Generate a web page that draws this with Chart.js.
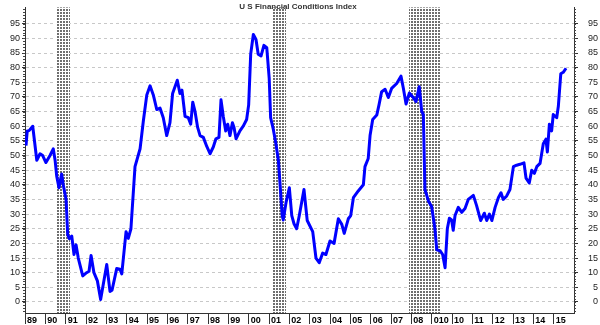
<!DOCTYPE html>
<html>
<head>
<meta charset="utf-8">
<title>US Financial Conditions Index</title>
<script src="https://cdn.jsdelivr.net/npm/chart.js@4.4.0/dist/chart.umd.min.js"></script>
<style>
  html, body { margin: 0; padding: 0; background: #fff; }
  #wrap { width: 600px; height: 325px; }
</style>
</head>
<body>
<div id="wrap"><canvas id="fciChart" width="600" height="325"></canvas></div>
<script>
// Readings, as decimal years
const dates = [
  1989.05, 1989.11, 1989.20, 1989.38, 1989.58, 1989.74, 1989.87, 1990.03, 1990.23, 1990.39,
  1990.48, 1990.56, 1990.67, 1990.80, 1990.88, 1991.02, 1991.10, 1991.18, 1991.30, 1991.41,
  1991.51, 1991.62, 1991.84, 1992.03, 1992.15, 1992.25, 1992.39, 1992.56, 1992.72, 1993.02,
  1993.18, 1993.28, 1993.51, 1993.67, 1993.76, 1993.97, 1994.08, 1994.21, 1994.41, 1994.66,
  1994.82, 1994.99, 1995.15, 1995.31, 1995.48, 1995.64, 1995.80, 1995.97, 1996.13, 1996.26,
  1996.49, 1996.62, 1996.72, 1996.87, 1997.03, 1997.15, 1997.25, 1997.36, 1997.49, 1997.61,
  1997.77, 1997.94, 1998.10, 1998.26, 1998.39, 1998.54, 1998.64, 1998.75, 1998.87, 1998.97,
  1999.08, 1999.20, 1999.28, 1999.38, 1999.57, 1999.74, 1999.90, 2000.00, 2000.10, 2000.23,
  2000.36, 2000.47, 2000.61, 2000.75, 2000.89, 2001.01, 2001.08, 2001.21, 2001.34, 2001.46,
  2001.54, 2001.65, 2001.70, 2001.84, 2002.00, 2002.12, 2002.23, 2002.36, 2002.49, 2002.72,
  2002.88, 2003.15, 2003.31, 2003.47, 2003.64, 2003.80, 2004.00, 2004.20, 2004.41, 2004.58,
  2004.70, 2004.90, 2005.02, 2005.15, 2005.39, 2005.64, 2005.72, 2005.88, 2005.97, 2006.10,
  2006.30, 2006.41, 2006.54, 2006.71, 2006.87, 2007.03, 2007.28, 2007.49, 2007.61, 2007.74,
  2007.90, 2008.07, 2008.23, 2008.39, 2008.51, 2008.59, 2008.67, 2008.84, 2009.00, 2009.16,
  2009.25, 2009.41, 2009.54, 2009.66, 2009.77, 2009.87, 2009.98, 2010.06, 2010.15, 2010.31,
  2010.48, 2010.64, 2010.80, 2011.05, 2011.21, 2011.41, 2011.59, 2011.71, 2011.84, 2011.96,
  2012.12, 2012.28, 2012.41, 2012.52, 2012.69, 2012.85, 2013.02, 2013.18, 2013.34, 2013.54,
  2013.64, 2013.80, 2013.92, 2014.05, 2014.17, 2014.33, 2014.49, 2014.62, 2014.69, 2014.79,
  2014.90, 2014.98, 2015.15, 2015.23, 2015.35, 2015.47, 2015.61
];
const fciValues = [
  53.4, 58.4, 58.5, 60.0, 48.4, 50.6, 50.0, 47.6, 50.0, 52.3,
  48.4, 42.9, 39.0, 43.7, 40.0, 35.0, 23.0, 21.6, 22.5, 16.2,
  19.5, 15.0, 8.9, 10.0, 10.5, 15.9, 10.0, 7.2, 0.8, 12.8,
  3.6, 4.0, 11.4, 11.2, 9.6, 24.0, 21.7, 25.0, 46.2, 52.3,
  61.8, 70.7, 73.8, 70.7, 65.7, 66.2, 62.9, 56.8, 61.2, 71.2,
  75.7, 71.2, 72.3, 63.4, 62.9, 60.7, 68.2, 65.1, 59.6, 56.8,
  56.2, 53.1, 50.6, 52.9, 55.7, 56.2, 69.0, 63.4, 58.4, 60.7,
  56.8, 61.2, 59.6, 55.7, 58.4, 60.1, 62.3, 67.3, 84.6, 91.3,
  89.6, 84.6, 84.0, 87.6, 86.8, 76.3, 62.9, 59.0, 54.0, 48.4,
  40.6, 29.5, 28.0, 34.0, 39.0, 29.5, 26.7, 25.0, 29.5, 38.4,
  27.8, 24.0, 15.0, 13.4, 16.7, 16.2, 20.8, 20.0, 28.4, 26.5,
  23.4, 28.4, 29.5, 35.6, 37.9, 40.0, 46.2, 49.0, 56.8, 62.3,
  63.8, 67.3, 71.8, 72.6, 69.8, 72.9, 74.6, 77.1, 72.9, 67.6,
  71.3, 70.0, 68.4, 73.5, 65.1, 64.0, 38.4, 34.5, 32.5, 25.0,
  17.8, 17.5, 16.2, 11.7, 25.0, 28.6, 28.0, 24.5, 29.5, 32.3,
  30.6, 31.9, 35.0, 36.4, 32.9, 27.8, 30.3, 27.8, 30.0, 27.8,
  32.3, 35.6, 37.3, 35.0, 36.2, 38.4, 46.2, 46.7, 47.0, 47.5,
  42.3, 40.6, 45.0, 43.9, 46.2, 47.3, 54.0, 55.6, 51.2, 60.7,
  58.4, 64.0, 62.9, 66.8, 77.9, 78.4, 79.8
];

// Year separators along the bottom and their labels
const yearTicks = [
  1989, 1990, 1991, 1992, 1993, 1994, 1995, 1996, 1997, 1998, 1999, 2000, 2001, 2002,
  2003, 2004, 2005, 2006, 2007, 2008, 2009, 2010, 2011, 2012, 2013, 2014, 2015
];
const yearLabels = [
  '89', '90', '91', '92', '93', '94', '95', '96', '97', '98', '99', '00', '01', '02',
  '03', '04', '05', '06', '07', '08', '010', '10', '11', '12', '13', '14', '15'
];
const valueTicks = [0, 5, 10, 15, 20, 25, 30, 35, 40, 45, 50, 55, 60, 65, 70, 75, 80, 85, 90, 95];

// Recession periods (start, end) in decimal years
const recessions = [
  [1990.50, 1991.21],
  [2001.15, 2001.84],
  [2007.89, 2009.41]
];

const chartTitle = 'U S Financial Conditions Index';

const yMin = -3.77;
const yMax = 100.57;

// small dotted fill used for the recession bands
function makeBandPattern(ctx) {
  const tile = document.createElement('canvas');
  tile.width = 3;
  tile.height = 3;
  const t = tile.getContext('2d');
  t.fillStyle = '#ffffff';
  t.fillRect(0, 0, 3, 3);
  t.fillStyle = '#6e6e6e';
  t.fillRect(0, 0, 2, 2);
  return ctx.createPattern(tile, 'repeat');
}

const recessionBands = {
  id: 'recessionBands',
  beforeDatasetsDraw(chart) {
    const { ctx, chartArea, scales } = chart;
    const pattern = makeBandPattern(ctx);
    ctx.save();
    ctx.fillStyle = pattern;
    recessions.forEach(([from, to]) => {
      const x1 = Math.round(scales.x.getPixelForValue(from));
      const x2 = Math.round(scales.x.getPixelForValue(to));
      ctx.fillRect(x1, chartArea.top, x2 - x1, chartArea.bottom - chartArea.top);
    });
    ctx.restore();
  }
};

// title sits inside the plot area, plus small unit ticks on both value axes
const extras = {
  id: 'extras',
  afterDraw(chart) {
    const { ctx, chartArea, scales } = chart;
    ctx.save();
    ctx.strokeStyle = '#444';
    ctx.lineWidth = 1;
    ['y', 'y2'].forEach(id => {
      const s = scales[id];
      const left = s.position === 'left';
      const x0 = left ? chartArea.left : chartArea.right;
      ctx.beginPath();
      for (let v = Math.ceil(yMin); v <= Math.floor(yMax); v++) {
        const py = Math.round(s.getPixelForValue(v)) + 0.5;
        ctx.moveTo(x0, py);
        ctx.lineTo(left ? x0 - 2 : x0 + 2, py);
      }
      ctx.stroke();
    });

    ctx.fillStyle = '#333';
    ctx.font = 'bold 8px "Liberation Sans", Arial, sans-serif';
    ctx.textAlign = 'center';
    ctx.textBaseline = 'middle';
    ctx.fillText(chartTitle, 298, 6.5);
    ctx.restore();
  }
};

const axisFont = { family: '"Liberation Sans", Arial, sans-serif', size: 9 };

const ctx = document.getElementById('fciChart').getContext('2d');
const fciChart = new Chart(ctx, {
  type: 'line',
  data: {
    datasets: [{
      label: 'US FCI',
      data: dates.map((d, i) => ({ x: d, y: fciValues[i] })),
      borderColor: '#0000ff',
      borderWidth: 3,
      pointRadius: 0,
      tension: 0,
      fill: false,
      borderJoinStyle: 'round',
      yAxisID: 'y'
    }]
  },
  options: {
    responsive: false,
    animation: false,
    devicePixelRatio: 1,
    layout: { padding: { left: 0, right: 2, top: 0, bottom: 0 } },
    plugins: {
      legend: { display: false },
      title: { display: false },
      tooltip: { enabled: false }
    },
    scales: {
      x: {
        type: 'linear',
        min: 1989,
        max: 2016,
        afterBuildTicks: s => { s.ticks = yearTicks.map(v => ({ value: v })); },
        afterFit: s => { s.height = 12; },
        grid: { drawOnChartArea: false, tickLength: 11, tickColor: '#333' },
        border: { color: '#333' },
        ticks: {
          autoSkip: false,
          maxRotation: 0,
          align: 'start',
          labelOffset: 2,
          padding: -9,
          color: '#000',
          font: { ...axisFont, weight: 'bold' },
          callback: (v, i) => yearLabels[i]
        }
      },
      y: {
        position: 'left',
        min: yMin,
        max: yMax,
        afterBuildTicks: s => { s.ticks = valueTicks.map(v => ({ value: v })); },
        afterFit: s => { s.width = 25; },
        grid: { color: '#c8c8c8', tickLength: 3, tickColor: '#333' },
        border: { color: '#333', dash: [3, 3] },
        ticks: { padding: 2, color: '#222', font: axisFont }
      },
      y2: {
        position: 'right',
        min: yMin,
        max: yMax,
        afterBuildTicks: s => { s.ticks = valueTicks.map(v => ({ value: v })); },
        afterFit: s => { s.width = 24; },
        grid: { drawOnChartArea: false, tickLength: 4, tickColor: '#333' },
        border: { color: '#333' },
        ticks: { crossAlign: 'far', padding: 2, color: '#222', font: axisFont }
      }
    }
  },
  plugins: [recessionBands, extras]
});
</script>
</body>
</html>
